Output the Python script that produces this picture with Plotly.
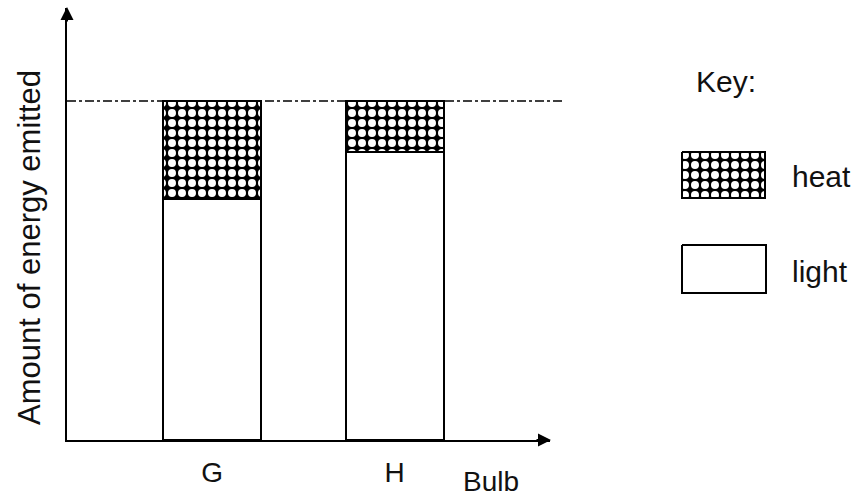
import plotly.graph_objects as go

# Energy emitted by each bulb, split into light and heat (same total)
bulbs = ["G", "H"]
light = [7.1, 8.5]
heat = [2.9, 1.5]
key_labels = ["heat", "light"]
axis_title = "Amount of energy emitted"
x_label = "Bulb"

W, H = 859, 496
FONT = "Liberation Sans, Arial, sans-serif"


def px(x):
    return x / W


def py(y):
    return (H - y) / H


heat_pattern = dict(shape=".", bgcolor="black", fgcolor="white",
                    size=10, solidity=0.5, fillmode="replace")

fig = go.Figure()
fig.add_bar(x=bulbs, y=light, name="light", width=0.537,
            marker=dict(color="white", line=dict(color="black", width=2)))
fig.add_bar(x=bulbs, y=heat, name="heat", width=0.537,
            marker=dict(color="black", line=dict(color="black", width=2),
                        pattern=heat_pattern))

# Key swatches drawn on a full-page pixel-unit overlay axis
swatches = {"heat": (682, 765, 152, 198), "light": (682, 766, 245, 293)}
for name in key_labels:
    x0, x1, y0, y1 = swatches[name]
    kw = dict(fillcolor="white")
    if name == "heat":
        kw = dict(fillcolor="black", fillpattern=heat_pattern)
    fig.add_scatter(x=[x0, x1, x1, x0, x0], y=[y0, y0, y1, y1, y0],
                    xaxis="x2", yaxis="y2", mode="lines", fill="toself",
                    line=dict(color="black", width=2), hoverinfo="skip",
                    showlegend=False, **kw)

total = light[0] + heat[0]

annotations = [
    dict(x=px(29), y=py(248), text=axis_title, textangle=-90,
         font=dict(size=31, color="#111")),
    dict(x=px(491), y=py(481), text=x_label, font=dict(size=28, color="#111")),
    dict(x=px(726), y=py(82), text="Key:", font=dict(size=30, color="#111")),
]
for name, (x0, x1, y0, y1) in swatches.items():
    annotations.append(dict(x=px(790), y=py((y0 + y1) / 2 + 2), text=name,
                            xanchor="left", font=dict(size=30, color="#111")))
# axis arrowheads
annotations.append(dict(x=px(551), y=py(440), ax=-16, ay=0, text="",
                        showarrow=True, arrowhead=2, arrowsize=1.3,
                        arrowwidth=2, arrowcolor="black"))
annotations.append(dict(x=px(67), y=py(7), ax=0, ay=16, text="",
                        showarrow=True, arrowhead=2, arrowsize=1.3,
                        arrowwidth=2, arrowcolor="black"))
for a in annotations:
    a.setdefault("xref", "paper")
    a.setdefault("yref", "paper")
    a.setdefault("showarrow", False)
    a.setdefault("xanchor", "center")
    a.setdefault("yanchor", "middle")

fig.update_layout(
    width=W, height=H,
    margin=dict(l=0, r=0, t=0, b=0),
    paper_bgcolor="white", plot_bgcolor="rgba(0,0,0,0)",
    barmode="stack", bargap=0, showlegend=False,
    font=dict(family=FONT, color="#111"),
    xaxis=dict(domain=[px(67), px(550)], range=[-0.795, 1.852],
               showline=True, linecolor="black", linewidth=2,
               showgrid=False, zeroline=False, ticks="",
               tickfont=dict(size=28, color="#111"), ticklabelstandoff=6),
    yaxis=dict(domain=[py(440), py(8)], range=[0, 12.74],
               showline=True, linecolor="black", linewidth=2,
               showgrid=False, zeroline=False, showticklabels=False),
    xaxis2=dict(domain=[0, 1], range=[0, W], anchor="y2", visible=False),
    yaxis2=dict(domain=[0, 1], range=[H, 0], anchor="x2", visible=False),
    shapes=[dict(type="line", xref="paper", yref="y",
                 x0=px(67), x1=px(563), y0=total, y1=total,
                 line=dict(color="black", width=1.5, dash="dashdot"))],
    annotations=annotations,
)

fig.write_html("out.html")
